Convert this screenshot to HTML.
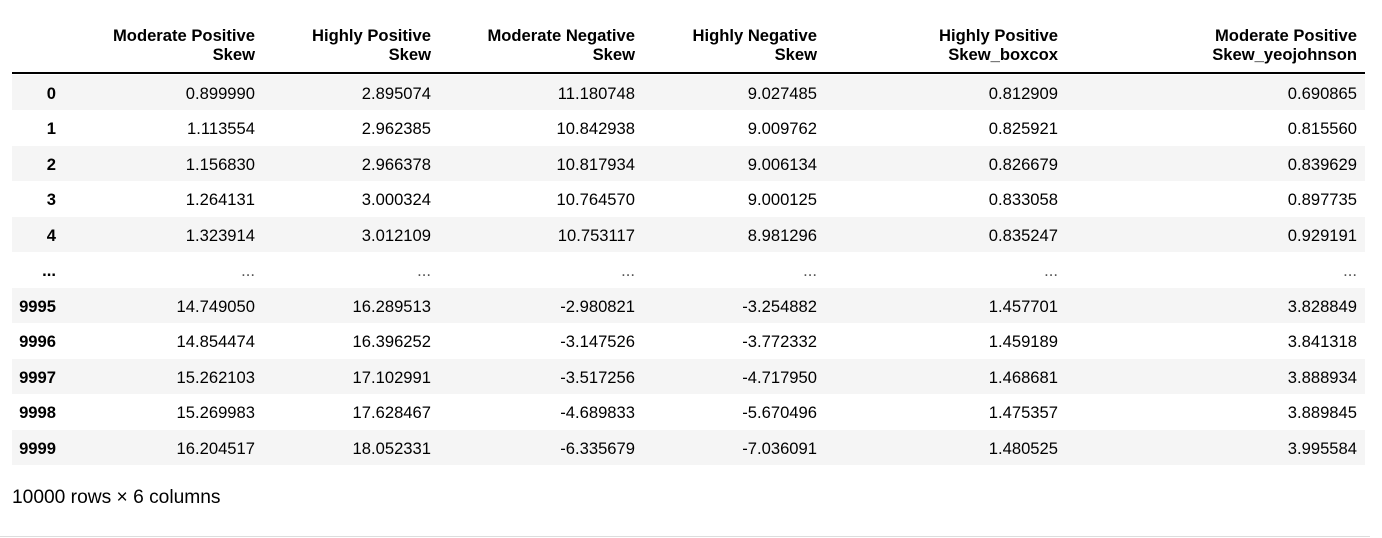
<!DOCTYPE html>
<html><head><meta charset="utf-8"><style>
body{margin:0;width:1382px;height:538px;background:#fff;font-family:"Liberation Sans",Arial,sans-serif;font-size:16.6px;color:#000;position:relative;overflow:hidden}
.c{position:absolute;white-space:nowrap;text-align:right;line-height:19px}
.h{font-weight:bold;line-height:18.5px}
.row{position:absolute;left:12px;width:1353px;height:35px}
.g{background:#f5f5f5}
</style></head><body>
<div id="t"></div>
<div style="position:absolute;left:12px;top:72px;width:1353px;height:2px;background:#000"></div>
<div style="position:absolute;left:12px;top:487px;font-size:19.2px">10000 rows × 6 columns</div>
<div style="position:absolute;left:0;top:536px;width:1370px;height:1px;background:#ddd"></div>
<script>
const headers=[["Moderate Positive","Skew"],["Highly Positive","Skew"],["Moderate Negative","Skew"],["Highly Negative","Skew"],["Highly Positive","Skew_boxcox"],["Moderate Positive","Skew_yeojohnson"]];
const index=["0","1","2","3","4","...","9995","9996","9997","9998","9999"];
const rows=[
["0.899990","2.895074","11.180748","9.027485","0.812909","0.690865"],
["1.113554","2.962385","10.842938","9.009762","0.825921","0.815560"],
["1.156830","2.966378","10.817934","9.006134","0.826679","0.839629"],
["1.264131","3.000324","10.764570","9.000125","0.833058","0.897735"],
["1.323914","3.012109","10.753117","8.981296","0.835247","0.929191"],
["...","...","...","...","...","..."],
["14.749050","16.289513","-2.980821","-3.254882","1.457701","3.828849"],
["14.854474","16.396252","-3.147526","-3.772332","1.459189","3.841318"],
["15.262103","17.102991","-3.517256","-4.717950","1.468681","3.888934"],
["15.269983","17.628467","-4.689833","-5.670496","1.475357","3.889845"],
["16.204517","18.052331","-6.335679","-7.036091","1.480525","3.995584"]];
const rights=[255,431,635,817,1058,1357];
const b=document.body;
headers.forEach((h,j)=>{const d=document.createElement('div');


d.className='c h';d.style.right=(1382-rights[j])+'px';d.style.top='27px';d.innerHTML=h[0]+'<br>'+h[1];b.appendChild(d);});
index.forEach((ix,i)=>{const top=75+i*35.45;
const r=document.createElement('div');


r.className='row'+(i%2==0?' g':'');r.style.top=top+'px';b.appendChild(r);
const d=document.createElement('div');


d.className='c';d.style.fontWeight='bold';d.style.right=(1382-56)+'px';d.style.top=(top+9)+'px';d.textContent=ix;b.appendChild(d);
rows[i].forEach((v,j)=>{const e=document.createElement('div');


e.className='c';e.style.right=(1382-rights[j])+'px';e.style.top=(top+9)+'px';e.textContent=v;
if(v==='...')e.style.color='#555';b.appendChild(e);});
});
</script>
</body></html>
